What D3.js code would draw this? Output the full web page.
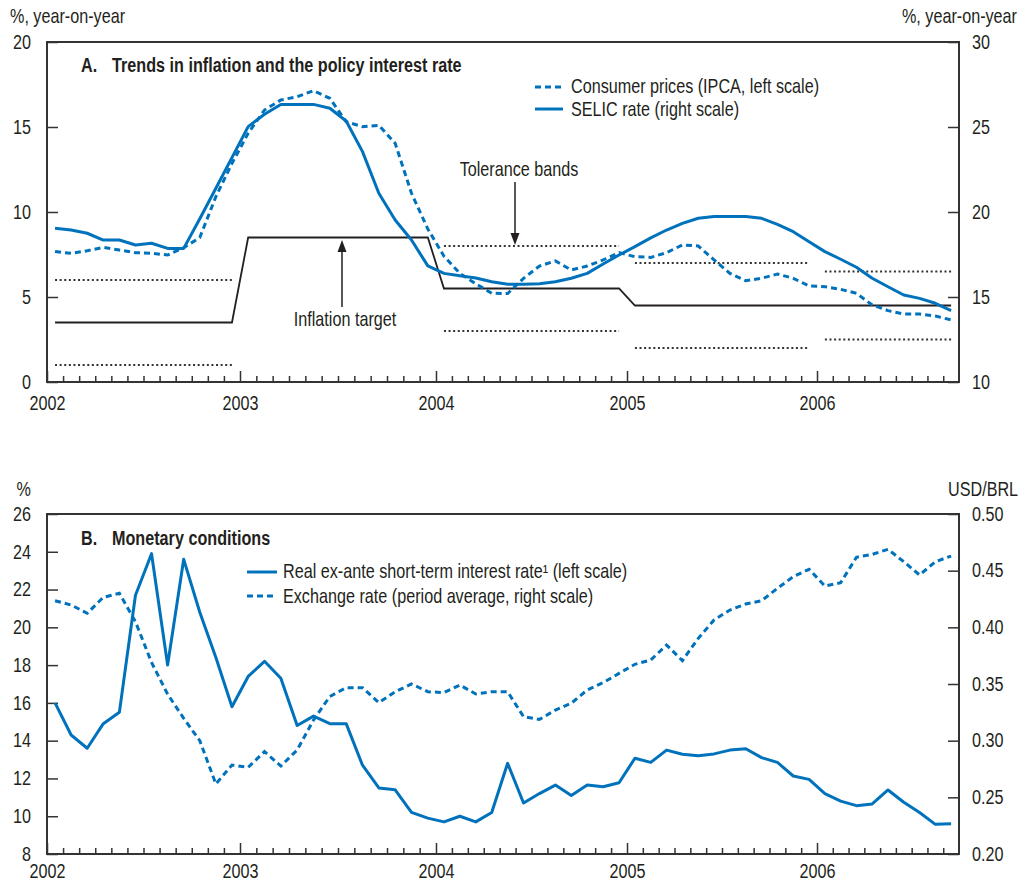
<!DOCTYPE html>
<html><head><meta charset="utf-8">
<script src="https://cdnjs.cloudflare.com/ajax/libs/d3/7.8.5/d3.min.js"></script>
<style>
body{margin:0;background:#fff;}
svg text{font-family:"Liberation Sans",Arial,sans-serif;fill:#231f20;}
</style></head><body>
<svg id="c" width="1035" height="882"></svg>
<script>
// ---- Data (monthly, Jan 2002 .. Sep 2006) ----
const yearLabels = ["2002","2003","2004","2005","2006"];
const yearTicks = [0,12,24,36,48];
const ipca = [7.67,7.57,7.72,7.92,7.76,7.61,7.57,7.47,7.9,8.5,10.9,12.86,
  14.63,16.0,16.59,16.78,17.14,16.69,15.31,15.02,15.1,14.04,11.1,9.0,
  7.4,6.39,5.78,5.22,5.2,6.1,6.82,7.12,6.59,6.82,7.18,7.61,
  7.37,7.33,7.61,8.06,8.0,7.18,6.39,5.96,6.1,6.35,6.1,5.65,
  5.61,5.45,5.22,4.53,4.2,4.0,4.0,3.88,3.65];
const selic = [19.04,18.94,18.75,18.35,18.35,18.06,18.16,17.86,17.86,19.6,21.4,23.2,
  25.02,25.75,26.32,26.33,26.33,26.1,25.35,23.55,21.1,19.53,18.35,16.83,
  16.39,16.25,16.12,15.9,15.75,15.75,15.78,15.9,16.1,16.39,16.94,17.47,
  17.96,18.48,18.94,19.33,19.63,19.73,19.73,19.73,19.63,19.27,18.84,18.25,
  17.67,17.22,16.75,16.1,15.6,15.12,14.92,14.63,14.2];
const target = [3.5,3.5,3.5,3.5,3.5,3.5,3.5,3.5,3.5,3.5,3.5,3.5,
  8.5,8.5,8.5,8.5,8.5,8.5,8.5,8.5,8.5,8.5,8.5,8.5,
  5.5,5.5,5.5,5.5,5.5,5.5,5.5,5.5,5.5,5.5,5.5,5.5,
  4.5,4.5,4.5,4.5,4.5,4.5,4.5,4.5,4.5,4.5,4.5,4.5,
  4.5,4.5,4.5,4.5,4.5,4.5,4.5,4.5,4.5];
const bandStart = [0,24,36,48];
const bandEnd = [11,35,47,56];
const bandUpper = [6,8,7,6.5];
const bandLower = [1,3,2,2.5];
const realRate = [16.0,14.3,13.6,14.9,15.5,21.7,23.9,18.0,23.6,20.8,18.4,15.8,
  17.4,18.2,17.3,14.8,15.3,14.9,14.9,12.7,11.5,11.4,10.2,9.9,
  9.7,10.0,9.7,10.2,12.8,10.7,11.2,11.65,11.1,11.65,11.56,11.77,
  13.07,12.85,13.5,13.28,13.2,13.3,13.5,13.57,13.1,12.85,12.13,11.95,
  11.2,10.8,10.56,10.65,11.39,10.74,10.2,9.57,9.6];
const fxRate = [0.4235,0.4197,0.4124,0.4265,0.430,0.405,0.369,0.341,0.3197,0.3,0.2618,0.2785,
  0.2765,0.2903,0.2776,0.2918,0.3182,0.339,0.3468,0.3468,0.3335,0.3432,0.35,0.3432,
  0.3424,0.3491,0.3412,0.3432,0.3432,0.3212,0.3188,0.327,0.333,0.3447,0.3512,0.3594,
  0.3674,0.3712,0.3844,0.3706,0.3903,0.4065,0.4153,0.4206,0.4235,0.4344,0.4447,0.4512,
  0.4365,0.4394,0.4618,0.4644,0.4688,0.4579,0.4462,0.4579,0.4629];
const leftTicksA = [0,5,10,15,20];
const rightTicksA = [10,15,20,25,30];
const leftTicksB = [8,10,12,14,16,18,20,22,24,26];
const rightTicksB = [0.20,0.25,0.30,0.35,0.40,0.45,0.50];

// ---- Layout ----
const L = 47, R = 959;
const PA = {top:42, bottom:382, xpad:14.5};
const PB = {top:514, bottom:854, xpad:10.5};
const BLUE = "#0072bc", INK = "#231f20", FS = 19.5, SX = 0.83;

const svg = d3.select("#c");
const x = d3.scaleLinear().domain([0,12,24,36,48,57]).range([47,240,436,627,817,959]);
const xm = i => x(i + 0.5);

const yA = d3.scaleLinear().domain([0,20]).range([PA.bottom, PA.top]);
const yA2 = d3.scaleLinear().domain([10,30]).range([PA.bottom, PA.top]);
const yB = d3.scaleLinear().domain([8,26]).range([PB.bottom, PB.top]);
const yB2 = d3.scaleLinear().domain([0.20,0.50]).range([PB.bottom, PB.top]);

function styleAxis(g){
  g.attr("font-family", null).attr("font-size", null);
  g.select(".domain").remove();
  g.selectAll("line").attr("stroke", "#333").attr("stroke-width", 1.5);
  g.selectAll("text").attr("font-size", FS);
}

function axes(p, yl, yr, lt, rt, rfmt){
  const monthTicks = d3.range(1,57).filter(m => m % 12 !== 0);
  svg.append("g").attr("transform", `translate(0,${p.bottom})`)
    .call(d3.axisBottom(x).tickValues(monthTicks).tickSize(-6).tickFormat(""))
    .call(styleAxis);
  svg.append("g").attr("transform", `translate(0,${p.bottom})`)
    .call(d3.axisBottom(x).tickValues(yearTicks).tickSize(-11).tickPadding(p.xpad)
      .tickFormat((d,i) => yearLabels[i]))
    .call(styleAxis);
  svg.append("g").attr("transform", `translate(${L},0)`)
    .call(d3.axisLeft(yl).tickValues(lt).tickSize(-11).tickPadding(16))
    .call(styleAxis);
  svg.append("g").attr("transform", `translate(${R},0)`)
    .call(d3.axisRight(yr).tickValues(rt).tickSize(-11).tickPadding(13).tickFormat(rfmt))
    .call(styleAxis);
  svg.append("rect").attr("x", L).attr("y", p.top).attr("width", R - L)
    .attr("height", p.bottom - p.top).attr("fill", "none")
    .attr("stroke", "#333").attr("stroke-width", 2);
}

function txt(xp, yp, s, opts = {}){
  return svg.append("text").attr("x", xp).attr("y", yp).attr("font-size", opts.size || FS)
    .attr("font-weight", opts.bold ? "bold" : null)
    .attr("text-anchor", opts.anchor || "start").text(s);
}

function arrow(xp, y1, y2){
  svg.append("line").attr("x1", xp).attr("x2", xp).attr("y1", y1).attr("y2", y2 + (y2 > y1 ? -10 : 10))
    .attr("stroke", INK).attr("stroke-width", 1.5);
  const d = y2 > y1 ? -1 : 1;
  svg.append("path").attr("d", `M${xp},${y2} L${xp-4.5},${y2 + d*12} L${xp+4.5},${y2 + d*12} Z`)
    .attr("fill", INK);
}

// ---- Panel A ----
axes(PA, yA, yA2, leftTicksA, rightTicksA, d3.format("d"));

bandStart.forEach((s, k) => {
  [bandUpper[k], bandLower[k]].forEach(v => {
    svg.append("line").attr("x1", xm(s)).attr("x2", xm(bandEnd[k]))
      .attr("y1", yA(v)).attr("y2", yA(v))
      .attr("stroke", "#333").attr("stroke-width", 2).attr("stroke-dasharray", "2,2.6");
  });
});

svg.append("path").datum(target)
  .attr("d", d3.line().x((d,i) => xm(i)).y(d => yA(d)))
  .attr("fill", "none").attr("stroke", INK).attr("stroke-width", 1.8);

svg.append("path").datum(selic)
  .attr("d", d3.line().x((d,i) => xm(i)).y(d => yA2(d)))
  .attr("fill", "none").attr("stroke", BLUE).attr("stroke-width", 3).attr("stroke-linejoin", "round");

svg.append("path").datum(ipca)
  .attr("d", d3.line().x((d,i) => xm(i)).y(d => yA(d)))
  .attr("fill", "none").attr("stroke", BLUE).attr("stroke-width", 3).attr("stroke-dasharray", "6,4");

txt(81, 72, "A.", {bold:true});
txt(112, 72, "Trends in inflation and the policy interest rate", {bold:true});
txt(10, 23, "%, year-on-year");
txt(1017, 23, "%, year-on-year", {anchor:"end"});

svg.append("line").attr("x1", 535).attr("x2", 562).attr("y1", 87).attr("y2", 87)
  .attr("stroke", BLUE).attr("stroke-width", 3).attr("stroke-dasharray", "6,4");
txt(571, 93, "Consumer prices (IPCA, left scale)");
svg.append("line").attr("x1", 535).attr("x2", 563).attr("y1", 109).attr("y2", 109)
  .attr("stroke", BLUE).attr("stroke-width", 3);
txt(571, 116, "SELIC rate (right scale)");

txt(519, 176, "Tolerance bands", {anchor:"middle"});
arrow(515, 182, 245);
txt(345, 326, "Inflation target", {anchor:"middle"});
arrow(342, 307, 240);

// ---- Panel B ----
axes(PB, yB, yB2, leftTicksB, rightTicksB, d3.format(".2f"));

svg.append("path").datum(fxRate)
  .attr("d", d3.line().x((d,i) => xm(i)).y(d => yB2(d)))
  .attr("fill", "none").attr("stroke", BLUE).attr("stroke-width", 3).attr("stroke-dasharray", "6,4");

svg.append("path").datum(realRate)
  .attr("d", d3.line().x((d,i) => xm(i)).y(d => yB(d)))
  .attr("fill", "none").attr("stroke", BLUE).attr("stroke-width", 3).attr("stroke-linejoin", "round");

txt(81, 545, "B.", {bold:true});
txt(112, 545, "Monetary conditions", {bold:true});
txt(31, 496, "%", {anchor:"end"});
txt(948, 496, "USD/BRL");

svg.append("line").attr("x1", 247).attr("x2", 277).attr("y1", 572).attr("y2", 572)
  .attr("stroke", BLUE).attr("stroke-width", 3);
txt(283, 578, "Real ex-ante short-term interest rate¹ (left scale)");
svg.append("line").attr("x1", 247).attr("x2", 277).attr("y1", 596).attr("y2", 596)
  .attr("stroke", BLUE).attr("stroke-width", 3).attr("stroke-dasharray", "6,4");
txt(283, 603, "Exchange rate (period average, right scale)");

// condensed look: compress every text horizontally about its anchor point
svg.selectAll("text").each(function(){
  const t = d3.select(this);
  const xx = +t.attr("x") || 0, yy = +t.attr("y") || 0;
  t.attr("x", 0).attr("y", 0).attr("transform", `translate(${xx},${yy}) scale(${SX},1)`);
});
</script>
</body></html>
